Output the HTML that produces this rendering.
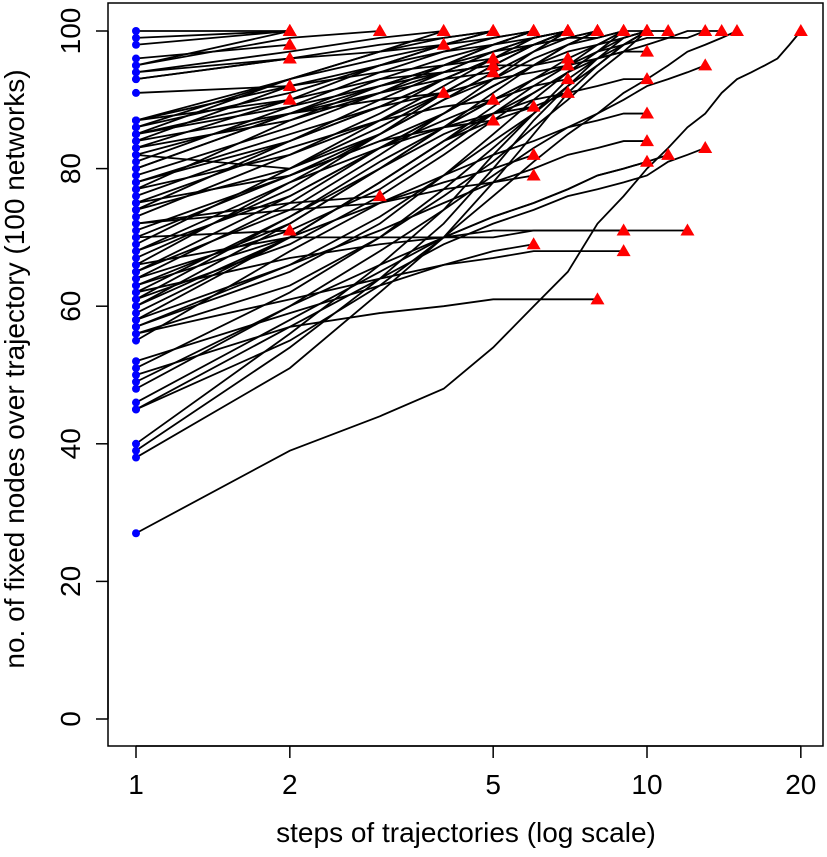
<!DOCTYPE html>
<html><head><meta charset="utf-8"><style>
body{margin:0;background:#fff}
svg{display:block;font-family:"Liberation Sans",Arial,sans-serif}
</style></head><body>
<svg id="chart" width="827" height="857"></svg>
<script>
const xTicks=[1,2,5,10,20];
const yTicks=[0,20,40,60,80,100];
const series=[
[100,100],[99,100],[98,100],[96,98],[95,100],[94,96],[91,92],[87,90],[70,71],
[95,99,100],[72,75,76],
[94,97,99,100],[93,96,97,98],[82,88,90,91],
[93,96,98,99,100],[87,92,94,95,96],[85,90,93,94,95],[80,88,91,93,94],[75,83,87,89,90],[70,79,84,86,87],
[86,93,96,98,99,100],[68,78,83,86,88,89],[63,70,75,78,80,82],[72,74,75,77,78,79],[56,61,64,66,68,69],
[84,92,95,97,98,99,100],[80,88,92,94,95,95,96],[78,85,89,91,93,94,95],[65,76,83,87,90,92,93],[60,72,80,85,88,90,91],
[77,87,92,95,97,98,99,100],[50,57,59,60,61,61,61,61],
[74,84,89,93,96,98,99,99,100],[62,67,69,70,70,71,71,71,71],[52,59,63,66,67,68,68,68,68],
[66,78,85,90,93,96,98,99,100,100],[61,73,81,86,90,93,95,96,97,97],[58,70,78,84,87,89,91,92,93,93],[55,68,75,79,82,84,86,87,88,88],[57,66,71,75,78,80,82,83,84,84],[49,60,66,70,73,75,77,79,80,81],
[64,75,83,88,92,95,97,98,99,100,100],[46,58,65,70,73,75,77,79,80,81,82],
[66,70,70,70,71,71,71,71,71,71,71,71],
[62,73,80,86,90,93,95,97,98,99,99,100,100],[48,60,68,74,79,83,86,88,90,92,93,94,95],[45,57,64,69,72,74,76,77,78,79,81,82,83],
[60,70,78,84,88,91,94,96,97,98,99,99,100,100],
[45,55,63,70,76,81,85,88,91,93,95,97,98,99,100],
[27,39,44,48,54,60,65,72,76,80,83,86,88,91,93,94,95,96,98,100],
[40,56,66,74,82,88,93,96,98,100],[39,54,64,72,80,87,92,96,99,100],[38,51,62,70,78,85,91,95,98,100],
[83,90,95,98,100],[81,89,94,97,99,100],[79,86,91,95,98,100],[76,84,90,94,97,99,100],[73,82,88,93,96,98,100],
[69,80,87,92,96,99,100],[67,77,85,91,95,98,100],[65,74,82,88,93,97,100],[63,72,80,86,91,95,98,100],
[59,70,78,84,89,93,96,98,100],[51,62,70,77,83,88,92,95,98,100],[86,91,95,98,100],[85,93,97,100],
[84,88,93,96,98,100],[82,80,85,90,94,97,100],[78,84,89,93,96,98,100],[74,80,86,91,95,98,100],
[71,79,85,90,94,97,99,100],[68,76,83,88,92,95,98,100],[64,71,77,83,88,92,95,98,100],[57,65,72,79,85,90,94,97,100],
[87,93,97,99,100],[85,89,92,95,98,100],[83,87,91,94,97,99,100],[77,82,87,91,95,98,100],[75,79,84,88,92,95,98,100],
[61,69,76,82,87,91,94,97,99,100],[58,66,73,79,84,88,92,95,98,100],[56,63,70,76,81,86,90,94,97,100]
];
const svg=document.getElementById('chart');
const NS='http://www.w3.org/2000/svg';
const X=v=>136+511*Math.log10(v);
const Y=v=>719-6.88*v;
function el(t,a,p){const e=document.createElementNS(NS,t);for(const k in a)e.setAttribute(k,a[k]);(p||svg).appendChild(e);return e;}
const box=el('rect',{x:108,y:3,width:715,height:743,fill:'none',stroke:'#000','stroke-width':1.5});


const gL=el('g',{});


series.forEach((s,i)=>{
 const p=el('polyline',{points:s.map((v,j)=>X(j+1)+','+Y(v)).join(' '),fill:'none',stroke:'#000','stroke-width':1.8},gL);
 
 
});
series.forEach(s=>{
 const c=el('circle',{cx:X(1),cy:Y(s[0]),r:4,fill:'#0000ff'});
 
 
 if(s.length>1){
 const n=s.length,x=X(n),y=Y(s[n-1]);
 const t=el('polygon',{points:`${x-7},${y+5} ${x+7},${y+5} ${x},${y-7}`,fill:'#ff0000'});
 
 }
});
el('line',{x1:X(1),x2:X(20),y1:746,y2:746,stroke:'#000','stroke-width':1.5});
xTicks.forEach(v=>{
 el('line',{x1:X(v),x2:X(v),y1:746,y2:758,stroke:'#000','stroke-width':1.5});
 const t=el('text',{x:X(v),y:794,'font-size':28,'text-anchor':'middle'});t.textContent=v;
 
 
});
el('line',{x1:108,x2:108,y1:Y(0),y2:Y(100),stroke:'#000','stroke-width':1.5});
yTicks.forEach(v=>{
 el('line',{x1:96,x2:108,y1:Y(v),y2:Y(v),stroke:'#000','stroke-width':1.5});
 const t=el('text',{x:80,y:Y(v),'font-size':28,'text-anchor':'middle',transform:`rotate(-90 80 ${Y(v)})`});t.textContent=v;
 
 
});
const xt=el('text',{x:466,y:842,'font-size':28,'text-anchor':'middle'});xt.textContent='steps of trajectories (log scale)';


const yt=el('text',{x:24,y:369,'font-size':28,'text-anchor':'middle',transform:'rotate(-90 24 369)'});yt.textContent='no. of fixed nodes over trajectory (100 networks)';


</script>
</body></html>
